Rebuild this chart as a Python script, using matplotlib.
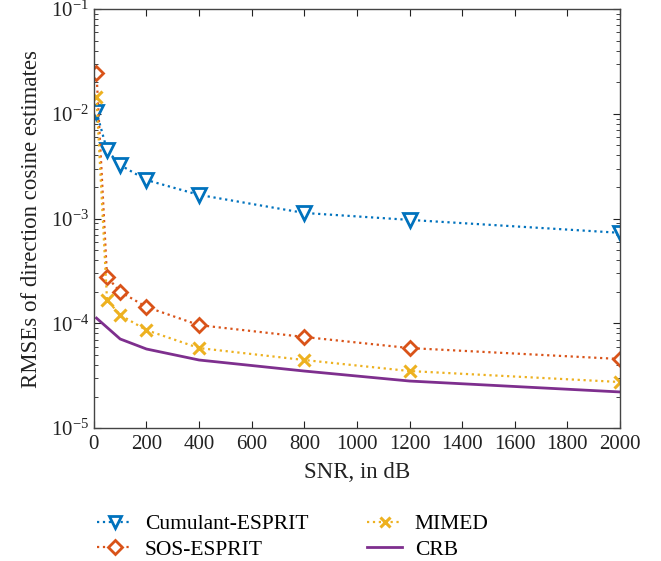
import matplotlib
matplotlib.use("Agg")
import matplotlib.pyplot as plt
import numpy as np

plt.rcParams['font.family'] = ['Liberation Serif', 'DejaVu Serif']
plt.rcParams['mathtext.fontset'] = 'stix'

x = [10, 50, 100, 200, 400, 800, 1200, 2000]
cumulant = [1.04e-2, 4.5e-3, 3.24e-3, 2.33e-3, 1.68e-3, 1.13e-3, 9.7e-4, 7.3e-4]
sos = [2.45e-2, 2.77e-4, 2.0e-4, 1.43e-4, 9.6e-5, 7.4e-5, 5.8e-5, 4.56e-5]
mimed = [1.44e-2, 1.67e-4, 1.2e-4, 8.6e-5, 5.8e-5, 4.46e-5, 3.5e-5, 2.75e-5]
x_crb = [10, 100, 200, 400, 800, 1200, 2000]
crb = [1.12e-4, 7.08e-5, 5.68e-5, 4.46e-5, 3.5e-5, 2.81e-5, 2.21e-5]

labels = ['Cumulant-ESPRIT', 'SOS-ESPRIT', 'MIMED', 'CRB']
colors = ['#0072BD', '#D95319', '#EDB120', '#7E2F8E']

fig = plt.figure(figsize=(6.61, 5.61), dpi=100)
ax = fig.add_axes([0.142, 0.237, 0.796, 0.747])

ax.semilogy(x, cumulant, ':', color=colors[0], marker='v', mfc='white', mew=2, ms=10, lw=1.6, label=labels[0])
ax.semilogy(x, sos, ':', color=colors[1], marker='D', mfc='white', mew=2, ms=7.5, lw=1.6, label=labels[1])
ax.semilogy(x, mimed, ':', color=colors[2], marker='x', mew=2.2, ms=8.5, lw=1.6, label=labels[2])
ax.semilogy(x_crb, crb, '-', color=colors[3], lw=2, label=labels[3])

ax.set_xlim(0, 2000)
ax.set_ylim(1e-5, 1e-1)
ax.set_xticks(np.arange(0, 2001, 200))
ax.tick_params(which='both', direction='in', top=True, right=True, labelsize=15, colors='#222222')
ax.tick_params(which='major', length=5)
ax.tick_params(which='minor', length=3)
ax.tick_params(axis='x', pad=5)
for s in ax.spines.values():
    s.set_color('#444444')
    s.set_linewidth(1)

ax.set_xlabel('SNR, in dB', fontsize=16.5, color='#222222', labelpad=6)
ax.set_ylabel('RMSEs of direction cosine estimates', fontsize=16.5, color='#222222', labelpad=6)

leg = fig.legend(loc='lower left', bbox_to_anchor=(0.118, -0.032), ncol=2, frameon=False,
                 fontsize=15.5, handlelength=1.6, columnspacing=2.75, labelspacing=0.25,
                 handletextpad=0.6, markerscale=0.9)

fig.savefig('out.png', dpi=100)
